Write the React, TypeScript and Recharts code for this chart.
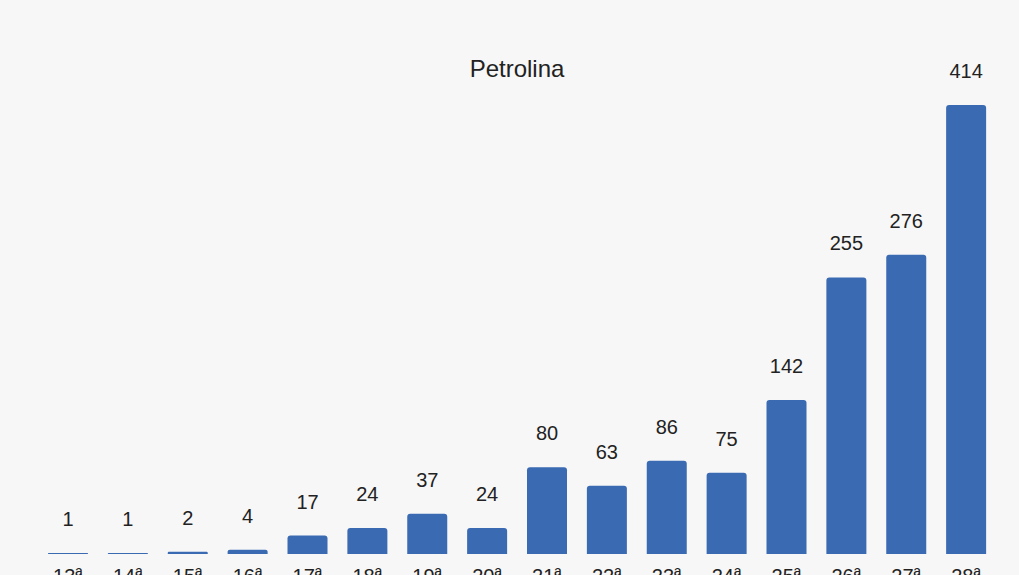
import React from 'react';
import { BarChart, Bar, XAxis, YAxis, LabelList } from 'recharts';

const weeks = ['13ª', '14ª', '15ª', '16ª', '17ª', '18ª', '19ª', '20ª', '21ª', '22ª', '23ª', '24ª', '25ª', '26ª', '27ª', '28ª'];
const cases = [1, 1, 2, 4, 17, 24, 37, 24, 80, 63, 86, 75, 142, 255, 276, 414];

const chartData = weeks.map((week, i) => ({ week, value: cases[i] }));

const FONT = '"Liberation Sans", Arial, sans-serif';

const App: React.FC = () => {
    return (
        <div
            style={{
                position: 'absolute',
                left: 0,
                top: 0,
                width: 1019,
                height: 575,
                overflow: 'hidden',
                background: '#f7f7f7',
                fontFamily: FONT
            }}
        >
            <div
                style={{
                    position: 'absolute',
                    left: 0,
                    top: 57,
                    width: 1034,
                    textAlign: 'center',
                    fontSize: 24,
                    lineHeight: '24px',
                    color: '#222'
                }}
            >
                Petrolina
            </div>
            <BarChart
                width={1019}
                height={600}
                data={chartData}
                margin={{ top: 105, right: 23, left: 38, bottom: 0 }}
            >
                <XAxis
                    dataKey="week"
                    axisLine={false}
                    tickLine={false}
                    tickMargin={9}
                    height={46}
                    interval={0}
                    tick={{ fontSize: 20, fill: '#222', fontFamily: FONT }}
                />
                <YAxis hide domain={[0, 414]} />
                <Bar dataKey="value" fill="#3a6ab2" barSize={40} radius={[3, 3, 0, 0]} isAnimationActive={false}>
                    <LabelList
                        dataKey="value"
                        position="top"
                        offset={27}
                        style={{ fontSize: 20, fill: '#222', fontFamily: FONT }}
                    />
                </Bar>
            </BarChart>
        </div>
    );
};

export default App;
